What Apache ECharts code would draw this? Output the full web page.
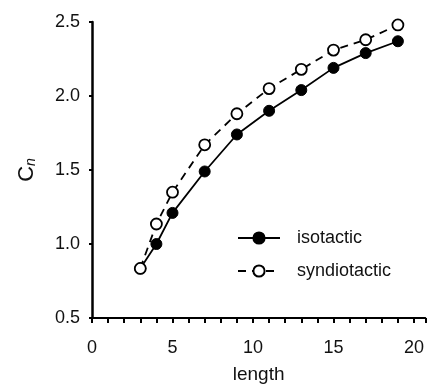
<!DOCTYPE html>
<html>
<head>
<meta charset="utf-8">
<script src="https://cdn.jsdelivr.net/npm/echarts@6/dist/echarts.min.js"></script>
<style>
  html, body { margin: 0; padding: 0; background: #fff; }
  #chart { width: 427px; height: 389px; }
</style>
</head>
<body>
<div id="chart"></div>
<script>
const lengths = [3, 4, 5, 7, 9, 11, 13, 15, 17, 19];
const isotactic = [0.835, 1.0, 1.21, 1.49, 1.74, 1.9, 2.04, 2.19, 2.29, 2.37];
const syndiotactic = [0.835, 1.135, 1.35, 1.67, 1.88, 2.05, 2.18, 2.31, 2.38, 2.48];

const pairs = (xs, ys) => xs.map((x, i) => [x, ys[i]]);
const font = "Liberation Sans, Arial, sans-serif";

const chart = echarts.init(document.getElementById("chart"));

chart.setOption({
    backgroundColor: "#fff",
    animation: false,
    grid: { left: 92, right: 0, top: 22, bottom: 66 },
    legend: {
        left: 232,
        top: 224,
        orient: "vertical",
        itemWidth: 42,
        itemHeight: 14,
        itemGap: 15,
        textStyle: { fontFamily: font, fontSize: 18, color: "#111", padding: [0, 0, 0, 12] },
        data: ["isotactic", "syndiotactic"],
    },
    xAxis: {
        type: "value",
        min: 0,
        max: 20.7,
        interval: 5,
        name: "length",
        nameLocation: "middle",
        nameGap: 47,
        nameTextStyle: { fontFamily: font, fontSize: 19, color: "#111" },
        axisLine: { lineStyle: { color: "#000", width: 2 } },
        axisTick: { inside: false, length: 5, lineStyle: { color: "#000", width: 2 } },
        minorTick: { show: true, splitNumber: 5, length: 5, lineStyle: { color: "#000", width: 2 } },
        axisLabel: {
            margin: 21,
            fontFamily: font,
            fontSize: 18,
            color: "#111",
            showMaxLabel: false,
        },
        splitLine: { show: false },
    },
    yAxis: {
        type: "value",
        min: 0.5,
        max: 2.5,
        interval: 0.5,
        name: "{c|C}{n|n}",
        nameLocation: "middle",
        nameGap: 54,
        nameRotate: 90,
        nameTextStyle: {
            rich: {
                c: { fontFamily: font, fontSize: 22, color: "#111" },
                n: { fontFamily: font, fontSize: 14, fontStyle: "italic", color: "#111", padding: [9, 0, 0, 0] },
            },
        },
        axisLine: { show: true, lineStyle: { color: "#000", width: 2.5 } },
        axisTick: { show: true, inside: false, length: 3, lineStyle: { color: "#000", width: 2 } },
        axisLabel: {
            margin: 12,
            fontFamily: font,
            fontSize: 18,
            color: "#111",
            formatter: (v) => v.toFixed(1),
        },
        splitLine: { show: false },
    },
    series: [
        {
            name: "isotactic",
            type: "line",
            data: pairs(lengths, isotactic),
            symbol: "circle",
            symbolSize: 11,
            itemStyle: { color: "#000", borderColor: "#000", borderWidth: 1 },
            lineStyle: { color: "#000", width: 1.8 },
            z: 2,
        },
        {
            name: "syndiotactic",
            type: "line",
            data: pairs(lengths, syndiotactic),
            symbol: "circle",
            symbolSize: 11,
            itemStyle: { color: "#fff", borderColor: "#000", borderWidth: 1.8 },
            lineStyle: { color: "#000", width: 1.8, type: [8, 6] },
            z: 3,
        },
    ],
});
</script>
</body>
</html>
